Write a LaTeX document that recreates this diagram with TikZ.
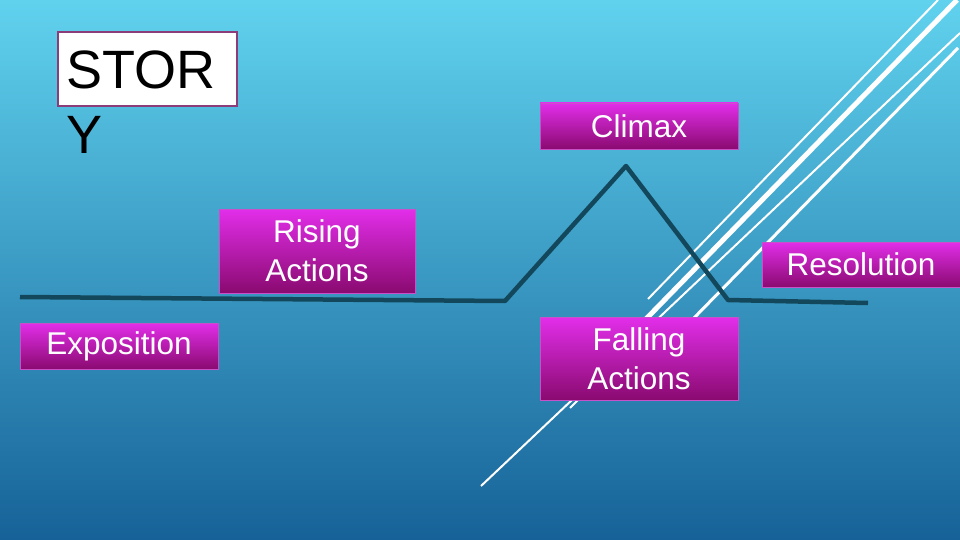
\documentclass[tikz,border=0pt]{standalone}
\usepackage{fontspec}
\setmainfont{Liberation Sans}
\begin{document}
\begin{tikzpicture}[x=1pt,y=-1pt,
  stage/.style={rectangle, draw=magborder, line width=0.8pt, top color=magtop, bottom color=magbot,
    text=white, font=\fontsize{31.5}{39}\selectfont, align=center, inner sep=0pt},
  plotline/.style={draw=plotc, line width=4.5pt, line join=round},
  deco/.style={draw=white, line cap=butt}
]
\definecolor{bgtop}{RGB}{96,210,238}
\definecolor{bgbot}{RGB}{22,98,152}
\definecolor{magtop}{RGB}{226,46,234}
\definecolor{magbot}{RGB}{138,10,112}
\definecolor{magborder}{RGB}{200,80,200}
\definecolor{plotc}{RGB}{19,72,92}
\definecolor{storyborder}{RGB}{140,60,120}
\useasboundingbox (0,0) rectangle (960,540);
\shade[top color=bgtop, bottom color=bgbot] (0,0) rectangle (960,540);
\begin{scope}
\clip (0,0) rectangle (960,540);
% decorative white lines
\draw[deco, line width=2pt] (648,299) -- (938,0);
\draw[deco, line width=5pt] (645,320) -- (957,0);
\draw[deco, line width=2pt] (481,486) -- (960,33);
\draw[deco, line width=3pt] (692,320) -- (958,48);
\draw[deco, line width=2pt] (570,408) -- (578,400);
% plot line
\coordinate (p0) at (20,297);
\coordinate (p1) at (505,301);
\coordinate (p2) at (626,166);
\coordinate (p3) at (728,300);
\coordinate (p4) at (868,303);
\draw[plotline] (p0) -- (p1) -- (p2) -- (p3) -- (p4);
% stage boxes
\node[stage, minimum width=198pt, minimum height=46pt] (climax) at (639,126) {Climax};
\node[stage, minimum width=196pt, minimum height=84pt] (rising) at (317,251) {Rising\\Actions};
\node[stage, minimum width=198pt, minimum height=45pt] (resolution) at (861,264.5) {Resolution};
\node[stage, minimum width=198pt, minimum height=46pt] (exposition) at (119,346) {Exposition};
\node[stage, minimum width=198pt, minimum height=83pt] (falling) at (639,358.5) {Falling\\Actions};
% story title
\node[draw=storyborder, line width=1.5pt, fill=white, minimum width=179pt, minimum height=74pt, inner sep=0pt] (storybox) at (147.5,69) {};
\node[anchor=north west, align=left, inner sep=0pt, font=\fontsize{54}{65}\selectfont, text=black] (story) at (66,51) {STOR\\Y};
\end{scope}
\end{tikzpicture}
\end{document}
